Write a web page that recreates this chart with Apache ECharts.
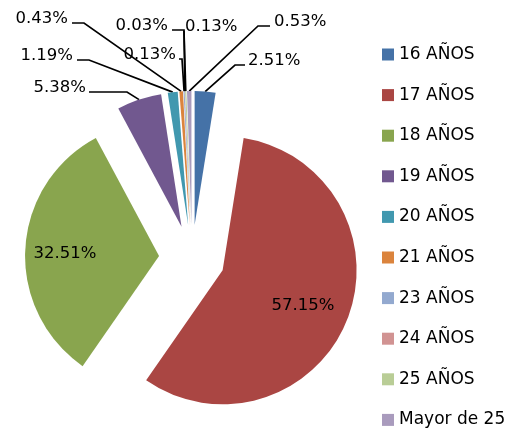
<!DOCTYPE html>
<html>
<head>
<meta charset="utf-8">
<script src="https://cdn.jsdelivr.net/npm/echarts@6/dist/echarts.min.js"></script>
<style>
html,body{margin:0;padding:0;background:#fff;}
#chart{width:511px;height:430px;}
</style>
</head>
<body>
<div id="chart"></div>
<script>
// ---- data ----
const categories = ['16 AÑOS','17 AÑOS','18 AÑOS','19 AÑOS','20 AÑOS','21 AÑOS','23 AÑOS','24 AÑOS','25 AÑOS','Mayor de 25'];
const percentages = [2.51, 57.15, 32.51, 5.38, 1.19, 0.43, 0.13, 0.03, 0.13, 0.53];
const colors = ['#4572A7','#AA4643','#89A54E','#71588F','#4198AF','#DB843D','#93A9CF','#D19392','#B9CD96','#A99BBD'];

// label placement (layout, not data)
const labelPlace = [
  {x:248, y:61, align:'left',  gap:3, stub:10},
  {x:303, y:306, align:'center'},
  {x:65,  y:254, align:'center'},
  {x:86,  y:88, align:'right', gap:3, stub:38},
  {x:73,  y:56, align:'right', gap:4, stub:12},
  {x:68,  y:19, align:'right', gap:4, stub:12},
  {x:176, y:55, align:'right', gap:3, stub:3},
  {x:168, y:26, align:'right', gap:4, stub:12},
  {x:185, y:27, align:'left',  gap:1, stub:0},
  {x:274, y:22, align:'left',  gap:4, stub:12}
];

const FONT = 'DejaVu Sans';
const EXPLODE = 33;
const total = percentages.reduce((a, b) => a + b, 0);
// explode offset of each slice (derived from the data, used to map label targets into slice space)
const sliceShift = [];
(function () {
  let cum = 0;
  percentages.forEach(v => {
    const mid = (cum + v / 2) / total * 2 * Math.PI;
    sliceShift.push([EXPLODE * Math.sin(mid), -EXPLODE * Math.cos(mid)]);
    cum += v;
  });
})();

const chart = echarts.init(document.getElementById('chart'), null, {renderer:'canvas'});
const seriesData = categories.map((c, i) => {
  const big = percentages[i] > 20;
  return {
    name: c,
    value: percentages[i],
    selected: true,
    itemStyle: {color: colors[i]},
    labelLine: {show: !big}
  };
});

chart.setOption({
  animation: false,
  backgroundColor: '#fff',
  legend: {
    orient: 'vertical',
    left: 382,
    top: 46,
    height: 390,
    padding: 0,
    itemWidth: 12,
    itemHeight: 12,
    itemGap: 23.6,
    icon: 'rect',
    selectedMode: false,
    textStyle: {fontFamily: FONT, fontSize: 17, color: '#000'},
    data: categories
  },
  series: [{
    type: 'pie',
    center: [192, 258],
    radius: 134,
    startAngle: 90,
    clockwise: true,
    selectedMode: 'multiple',
    selectedOffset: EXPLODE,
    avoidLabelOverlap: false,
    itemStyle: {borderWidth: 0},
    select: {itemStyle: {borderWidth: 0}},
    emphasis: {disabled: true},
    label: {
      show: true,
      formatter: p => p.value.toFixed(2) + '%',
      fontFamily: FONT,
      fontSize: 16.5,
      color: '#000'
    },
    labelLine: {
      show: true,
      length: 10,
      length2: 10,
      lineStyle: {color: '#000', width: 1.7}
    },
    labelLayout: function (params) {
      const i = params.dataIndex;
      const p = labelPlace[i];
      const s = sliceShift[i];
      const r = params.labelRect;
      let refX;
      if (p.align === 'left') refX = r.x;
      else if (p.align === 'right') refX = r.x + r.width;
      else refX = r.x + r.width / 2;
      const out = {dx: p.x - refX - s[0], dy: p.y - (r.y + r.height / 2) - s[1]};
      if (p.stub != null && params.labelLinePoints) {
        const start = params.labelLinePoints[0];
        const ly = p.y + 4;
        let endX, elbowX;
        if (p.align === 'right') { endX = p.x + p.gap; elbowX = endX + p.stub; }
        else { endX = p.x - p.gap; elbowX = endX - p.stub; }
        out.labelLinePoints = [
          [start[0], start[1]],
          [elbowX - s[0], ly - s[1]],
          [endX - s[0], ly - s[1]]
        ];
      }
      return out;
    },
    data: seriesData
  }]
});
</script>
</body>
</html>
